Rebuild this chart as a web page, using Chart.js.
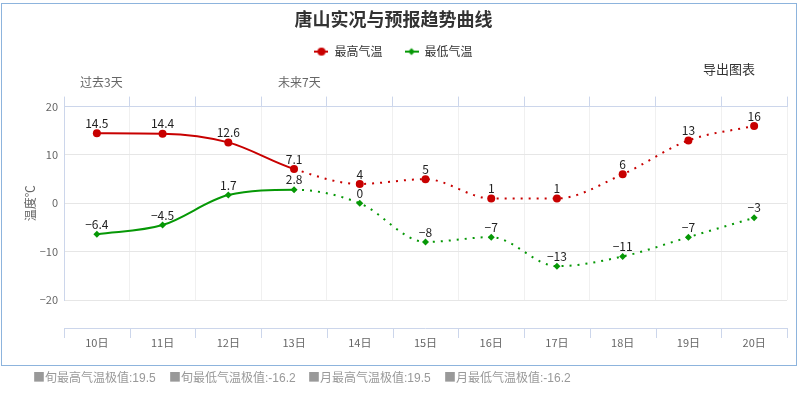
<!DOCTYPE html>
<html>
<head>
<meta charset="utf-8">
<script src="https://cdn.jsdelivr.net/npm/chart.js@4.4.1/dist/chart.umd.min.js"></script>
<style>
  body { margin: 0; background: #fff; }
  #wrap { position: relative; width: 798px; height: 395px; font-family: "Noto Sans CJK SC", sans-serif; }
  #frame { position: absolute; left: 1px; top: 3px; width: 794px; height: 361px; border: 1px solid #8db4dd; pointer-events: none; }
  #chart { position: absolute; left: 0; top: 0; }
  .note { position: absolute; font-size: 12px; line-height: 16px; color: #666; white-space: nowrap; }
  .export { font-size: 13px; color: #333; }
  .foot { position: absolute; top: 369px; font-size: 12px; line-height: 16px; color: #999; white-space: nowrap; font-family: "Liberation Sans", "Noto Sans CJK SC", sans-serif; }
  .foot b { font-weight: normal; font-family: "Noto Sans CJK SC", sans-serif; }
</style>
</head>
<body>
<div id="wrap">
  <canvas id="chart" width="798" height="395"></canvas>
  <div id="frame"></div>
  <div class="note" style="left:80px; top:74px;">过去3天</div>
  <div class="note" style="left:278px; top:74px;">未来7天</div>
  <div class="note export" style="left:703px; top:61px;">导出图表</div>
  <div class="foot" style="left:33px;"><b>■</b>旬最高气温极值:19.5</div>
  <div class="foot" style="left:169px;"><b>■</b>旬最低气温极值:-16.2</div>
  <div class="foot" style="left:308px;"><b>■</b>月最高气温极值:19.5</div>
  <div class="foot" style="left:444px;"><b>■</b>月最低气温极值:-16.2</div>
</div>
<script>
const days = ['10日', '11日', '12日', '13日', '14日', '15日', '16日', '17日', '18日', '19日', '20日'];
const maxTemp = [14.5, 14.4, 12.6, 7.1, 4, 5, 1, 1, 6, 13, 16];
const minTemp = [-6.4, -4.5, 1.7, 2.8, 0, -8, -7, -13, -11, -7, -3];
const yTicks = [-20, -10, 0, 10, 20];
// 13日 is the last observed day, the forecast part is dotted
const forecastFrom = 3;

const RED = '#c80000';
const GREEN = '#069806';
const AXIS = '#ccd6eb';

Chart.defaults.font.family = '"Noto Sans CJK SC", "Noto Sans", sans-serif';

// legend symbol: short line with the marker on it
const legendIcon = (color, diamond) => {
  const c = document.createElement('canvas');
  c.width = 14;
  c.height = 10;
  const g = c.getContext('2d');
  g.strokeStyle = color;
  g.fillStyle = color;
  g.lineWidth = 2;
  g.beginPath();
  g.moveTo(0, 5);
  g.lineTo(14, 5);
  g.stroke();
  g.beginPath();
  if (diamond) {
    g.moveTo(7, 1.5); g.lineTo(10.5, 5); g.lineTo(7, 8.5); g.lineTo(3.5, 5);
  } else {
    g.arc(7, 5, 4, 0, Math.PI * 2);
  }
  g.fill();
  return c;
};
const legendIcons = [legendIcon(RED, false), legendIcon(GREEN, true)];

const fmt = (v) => (v < 0 ? '\u2212' + Math.abs(v) : String(v));

const valueLabels = {
  id: 'valueLabels',
  afterDatasetsDraw(chart) {
    const { ctx } = chart;
    ctx.save();
    ctx.font = '12px "Noto Sans CJK SC", "Noto Sans", sans-serif';
    ctx.fillStyle = '#222';
    ctx.textAlign = 'center';
    ctx.textBaseline = 'bottom';
    chart.data.datasets.forEach((ds, i) => {
      chart.getDatasetMeta(i).data.forEach((pt, j) => {
        ctx.fillText(fmt(ds.data[j]), pt.x, pt.y - 4);
      });
    });
    ctx.restore();
  }
};

// category axis drawn a little below the plot, like the original
const lowerAxis = {
  id: 'lowerAxis',
  afterDraw(chart) {
    const { ctx, chartArea } = chart;
    const x = chart.scales.x;
    const y0 = chartArea.bottom + 28;
    const step = x.getPixelForValue(1) - x.getPixelForValue(0);
    ctx.save();
    ctx.strokeStyle = AXIS;
    ctx.lineWidth = 1;
    ctx.beginPath();
    ctx.moveTo(chartArea.left, y0 + 0.5);
    ctx.lineTo(chartArea.right, y0 + 0.5);
    for (let i = 0; i <= days.length; i++) {
      const px = Math.round(x.getPixelForValue(0) - step / 2 + i * step) + 0.5;
      ctx.moveTo(px, y0);
      ctx.lineTo(px, y0 + 10);
    }
    ctx.stroke();
    ctx.restore();
  }
};

const dotted = (ctx) => (ctx.p0DataIndex >= forecastFrom ? [2, 6] : undefined);

new Chart(document.getElementById('chart'), {
  type: 'line',
  data: {
    labels: days,
    datasets: [
      {
        label: '最高气温',
        data: maxTemp,
        borderColor: RED,
        backgroundColor: RED,
        borderWidth: 2,
        pointStyle: 'circle',
        pointRadius: 4,
        pointBorderWidth: 0,
        cubicInterpolationMode: 'monotone',
        segment: { borderDash: dotted },
      },
      {
        label: '最低气温',
        data: minTemp,
        borderColor: GREEN,
        backgroundColor: GREEN,
        borderWidth: 2,
        pointStyle: 'rectRot',
        pointRadius: 3.5,
        pointBorderWidth: 0,
        cubicInterpolationMode: 'monotone',
        segment: { borderDash: dotted },
      },
    ]
  },
  options: {
    responsive: false,
    animation: false,
    layout: { padding: { left: 0, right: 11, top: 0, bottom: 0 } },
    plugins: {
      title: {
        display: true,
        text: '唐山实况与预报趋势曲线',
        color: '#333',
        font: { size: 18, weight: 'bold' },
        padding: { top: 8, bottom: -6 },
      },
      legend: {
        labels: {
          usePointStyle: true,
          pointStyleWidth: 14,
          color: '#333',
          font: { size: 12 },
          padding: 22,
          generateLabels: (chart) => Chart.defaults.plugins.legend.labels.generateLabels(chart)
            .map((l, i) => ({ ...l, pointStyle: legendIcons[i] })),
        }
      },
      tooltip: { enabled: false },
    },
    scales: {
      x: {
        offset: true,
        grid: { offset: true, color: '#f0f0f0', drawTicks: true, tickLength: 36, tickColor: 'rgba(0,0,0,0)' },
        border: { display: false },
        ticks: { color: '#666', font: { size: 11 }, padding: 0 },
        afterFit: (s) => { s.height = 95; },
      },
      x2: {
        type: 'category',
        axis: 'x',
        labels: days,
        position: 'top',
        offset: true,
        grid: { offset: true, drawOnChartArea: false, color: AXIS, tickLength: 10 },
        border: { color: AXIS },
        ticks: { display: false },
        afterFit: (s) => { s.height = 39; },
      },
      y: {
        min: -20,
        max: 20,
        grid: { color: '#e6e6e6', drawTicks: false },
        border: { color: AXIS },
        ticks: { color: '#666', font: { size: 11 }, padding: 6, stepSize: 10, callback: (v) => fmt(v) },
        afterBuildTicks: (s) => { s.ticks = yTicks.map((v) => ({ value: v })); },
        title: { display: true, text: '温度℃', color: '#666', font: { size: 12 }, padding: { top: 23, bottom: 0 } },
        afterFit: (s) => { s.width = 64; },
      }
    }
  },
  plugins: [valueLabels, lowerAxis]
});
</script>
</body>
</html>
